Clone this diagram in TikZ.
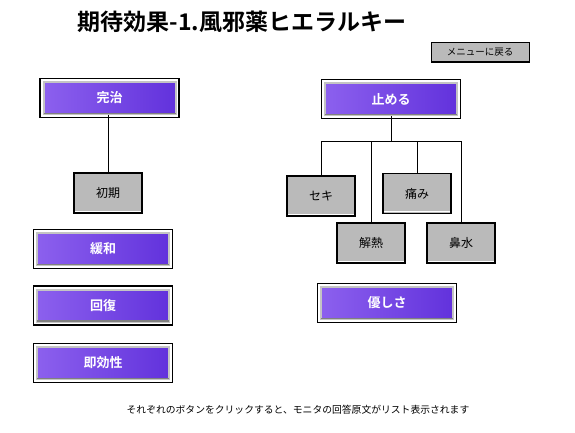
\documentclass[tikz,border=0pt]{standalone}
\usepackage{fontspec}
\newfontfamily\jp{Noto Sans CJK JP}[BoldFont={Noto Sans CJK JP Bold}]
\usepackage{tikz}
\usetikzlibrary{positioning, calc}
\definecolor{violetL}{HTML}{8C60EE}
\definecolor{violetD}{HTML}{6232DC}
\definecolor{bevel}{HTML}{C4C4C4}
\definecolor{boxgray}{HTML}{BABABA}

\tikzset{
  purplebtn/.style={rectangle, minimum width=132pt, minimum height=32pt, inner sep=0pt,
    left color=violetL, right color=violetD, draw=bevel, line width=2pt,
    text=white, font=\jp\bfseries\fontsize{13}{13}\selectfont},
  graybtn/.style={rectangle, minimum width=68pt, minimum height=40pt, inner sep=0pt,
    fill=boxgray, draw=black, line width=1.3pt, font=\jp\fontsize{12}{12}\selectfont},
  link/.style={draw=black, line width=0.8pt}
}

\begin{document}
\begin{tikzpicture}[x=1pt, y=-1pt]
  \useasboundingbox (0,0) rectangle (575,432);
  \fill[white] (0,0) rectangle (575,432);
  % Titre
  \node[font=\jp\bfseries\fontsize{23}{23}\selectfont] (title) at (242,22) {期待効果-1.風邪薬ヒエラルキー};
  % Bouton menu
  \node[rectangle, minimum width=98pt, minimum height=19pt, inner sep=0pt, fill=boxgray,
    draw=black, line width=0.6pt, font=\jp\fontsize{9.5}{10}\selectfont] (menu) at (480,52) {メニューに戻る};
  \draw[line width=1.6pt] (menu.north east) -- (menu.south east) -- (menu.south west);
  % Boutons violets
  \node[purplebtn] (kanchi) at (109.5,98) {完治};
  \node[purplebtn] (kanwa) at (103,249) {緩和};
  \node[purplebtn] (kaifuku) at (103,305.5) {回復};
  \node[purplebtn] (sokkou) at (103,363) {即効性};
  \node[purplebtn] (tomeru) at (391,99) {止める};
  \node[purplebtn] (yasashisa) at (387,303) {優しさ};
  \foreach \n in {kanchi, kanwa, kaifuku, sokkou, tomeru, yasashisa} {
    \draw[gray, line width=1.2pt] ([xshift=1pt,yshift=1.5pt]\n.south west) -- ([xshift=-1pt,yshift=1.5pt]\n.south east);
    \draw[line width=1.2pt] ([xshift=-2.5pt,yshift=2.5pt]\n.north west) rectangle ([xshift=2.5pt,yshift=-2.5pt]\n.south east);
  }
  % Boutons gris
  \node[graybtn] (shoki) at (108,193) {初期};
  \node[graybtn] (seki) at (321,196) {セキ};
  \node[graybtn] (itami) at (417,193.5) {痛み};
  \node[graybtn] (genetsu) at (371,243) {解熱};
  \node[graybtn] (hanamizu) at (461,243) {鼻水};
  \foreach \n in {shoki, seki, itami, genetsu, hanamizu} {
    \draw[white, line width=1pt] ([xshift=1.5pt,yshift=2.5pt]\n.south west) -- ([xshift=-1.5pt,yshift=2.5pt]\n.south east);
  }
  % Liaisons
  \draw[link] (shoki.north) -- (shoki.north |- kanchi.south);
  \coordinate (busL) at (seki.north |- 0,141);
  \coordinate (busR) at (hanamizu.north |- 0,141);
  \draw[link] (tomeru.south) -- (tomeru.south |- busL);
  \draw[link] (busL) -- (busR);
  \draw[link] (seki.north) -- (busL);
  \draw[link] (itami.north) -- (itami.north |- busL);
  \draw[link] (genetsu.north) -- (genetsu.north |- busL);
  \draw[link] (hanamizu.north) -- (busR);
  % Note
  \node[font=\jp\fontsize{9.8}{10}\selectfont] (note) at (298,410) {それぞれのボタンをクリックすると、モニタの回答原文がリスト表示されます};
\end{tikzpicture}
\end{document}
